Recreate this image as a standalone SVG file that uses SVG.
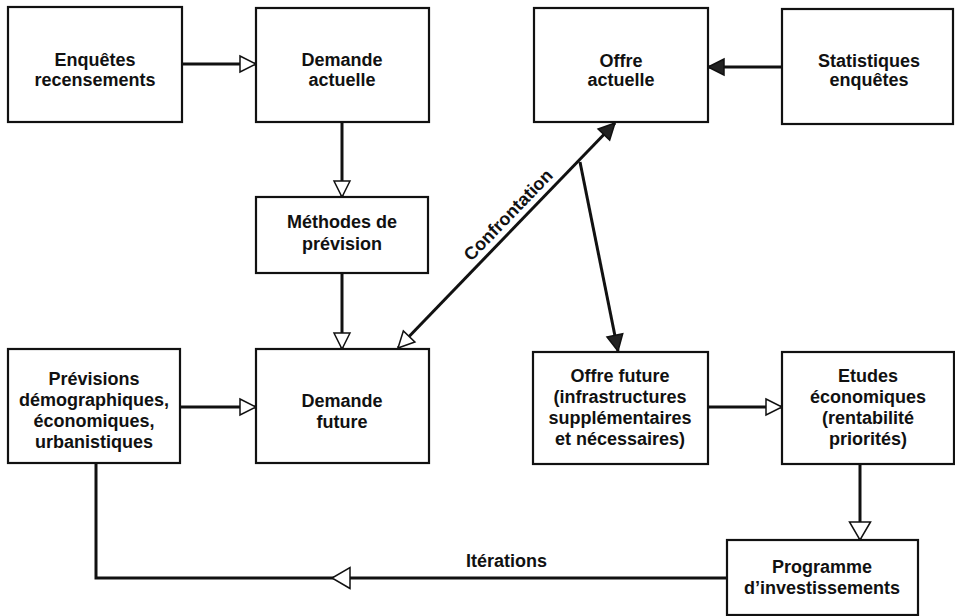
<svg xmlns="http://www.w3.org/2000/svg" width="955" height="616" viewBox="0 0 955 616">
<style>
.box{fill:#fff;stroke:#111;stroke-width:2.2}
.t{font-family:"Liberation Sans",Arial,sans-serif;font-weight:bold;font-size:18px;fill:#111;text-anchor:middle}
.c{fill:none;stroke:#111;stroke-width:3}
</style>
<defs>
<marker id="open" markerUnits="userSpaceOnUse" markerWidth="20" markerHeight="20" refX="16" refY="8" orient="auto-start-reverse" overflow="visible">
<path d="M0,0 L16,8 L0,16 Z" fill="#fff" stroke="#111" stroke-width="1.5"/>
</marker>
<marker id="solid" markerUnits="userSpaceOnUse" markerWidth="20" markerHeight="20" refX="16" refY="8" orient="auto-start-reverse" overflow="visible">
<path d="M0,0 L16,8 L0,16 Z" fill="#222" stroke="#111" stroke-width="1.5"/>
</marker>
<marker id="big" markerUnits="userSpaceOnUse" markerWidth="24" markerHeight="24" refX="18" refY="10.5" orient="auto" overflow="visible">
<path d="M0,0 L18,10.5 L0,21 Z" fill="#fff" stroke="#111" stroke-width="1.5"/>
</marker>
</defs>
<rect width="955" height="616" fill="#fff"/>
<g id="connectors">
<path class="c" d="M182,64 L256,64" marker-end="url(#open)"/>
<path class="c" d="M342,122 L342,197" marker-end="url(#open)"/>
<path class="c" d="M342,273 L342,349" marker-end="url(#open)"/>
<path class="c" d="M180,407 L256,407" marker-end="url(#open)"/>
<path class="c" d="M782,67 L708,67" marker-end="url(#solid)"/>
<path class="c" d="M398,348 L615,123" marker-start="url(#open)" marker-end="url(#solid)"/>
<path class="c" d="M580,162 L618,351" stroke-width="2.5" marker-end="url(#solid)"/>
<path class="c" d="M708,407 L782,407" marker-end="url(#open)"/>
<path class="c" d="M860,464 L860,540" marker-end="url(#big)"/>
<path class="c" d="M727,578 L332,578" marker-end="url(#big)"/>
<path class="c" d="M332,578 L96,578 L96,463"/>
<text class="t" x="466" y="567" style="text-anchor:start">Itérations</text>
<text class="t" transform="translate(506.5,235.5) rotate(-46)" x="16" y="-7">Confrontation</text>
</g>
<g id="enquetes">
<rect class="box" x="8" y="7" width="174" height="115"/>
<text class="t" x="95" y="66">Enquêtes</text>
<text class="t" x="95" y="86">recensements</text>
</g>
<g id="demande-actuelle">
<rect class="box" x="256" y="8" width="173" height="114"/>
<text class="t" x="342" y="66">Demande</text>
<text class="t" x="342" y="86">actuelle</text>
</g>
<g id="offre-actuelle">
<rect class="box" x="534" y="8" width="174" height="114"/>
<text class="t" x="621" y="67">Offre</text>
<text class="t" x="621" y="86">actuelle</text>
</g>
<g id="statistiques">
<rect class="box" x="782" y="9" width="171" height="115"/>
<text class="t" x="869" y="67">Statistiques</text>
<text class="t" x="869" y="86">enquêtes</text>
</g>
<g id="methodes">
<rect class="box" x="256" y="197" width="172" height="76"/>
<text class="t" x="342" y="228">Méthodes de</text>
<text class="t" x="342" y="250">prévision</text>
</g>
<g id="previsions">
<rect class="box" x="8" y="349" width="172" height="114"/>
<text class="t" x="94" y="385">Prévisions</text>
<text class="t" x="94" y="406">démographiques,</text>
<text class="t" x="94" y="427">économiques,</text>
<text class="t" x="94" y="448">urbanistiques</text>
</g>
<g id="demande-future">
<rect class="box" x="256" y="349" width="173" height="114"/>
<text class="t" x="342" y="407">Demande</text>
<text class="t" x="342" y="428">future</text>
</g>
<g id="offre-future">
<rect class="box" x="533" y="352" width="175" height="112"/>
<text class="t" x="620" y="382">Offre future</text>
<text class="t" x="620" y="403">(infrastructures</text>
<text class="t" x="620" y="424">supplémentaires</text>
<text class="t" x="620" y="445">et nécessaires)</text>
</g>
<g id="etudes">
<rect class="box" x="782" y="352" width="172" height="112"/>
<text class="t" x="868" y="382">Etudes</text>
<text class="t" x="868" y="403">économiques</text>
<text class="t" x="868" y="424">(rentabilité</text>
<text class="t" x="868" y="445">priorités)</text>
</g>
<g id="programme">
<rect class="box" x="727" y="540" width="191" height="75"/>
<text class="t" x="822" y="573">Programme</text>
<text class="t" x="822" y="594">d’investissements</text>
</g>
</svg>
